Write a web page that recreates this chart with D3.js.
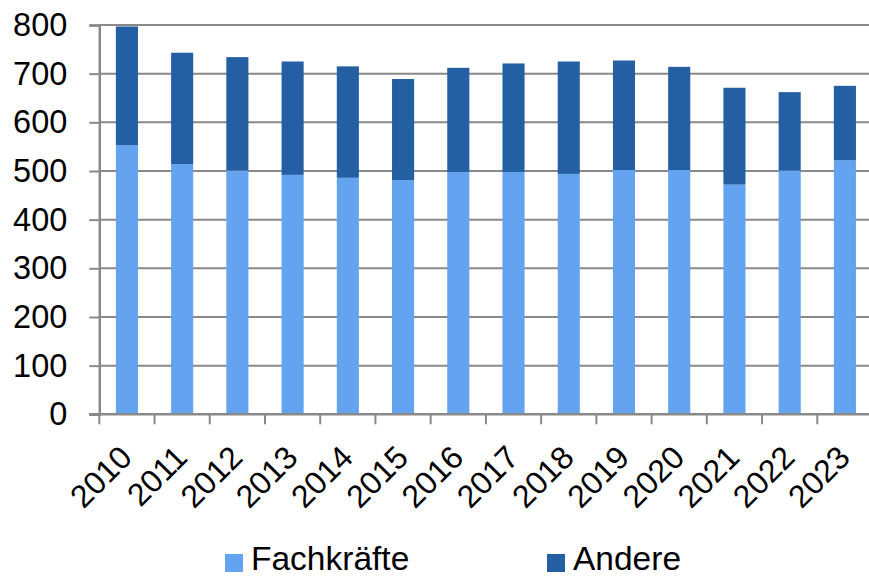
<!DOCTYPE html>
<html><head><meta charset="utf-8">
<script src="https://cdn.jsdelivr.net/npm/d3@7"></script>
<style>body{margin:0;background:#fff}svg{display:block}text{font-family:"Liberation Sans",Arial,sans-serif;fill:#000}</style>
</head><body><svg id="c" width="869" height="577"></svg>
<script>
const years = ["2010","2011","2012","2013","2014","2015","2016","2017","2018","2019","2020","2021","2022","2023"];
const fachkraefte = [553,514,501,492,486,481,498,498,494,502,502,472,501,522];
const andere = [244,229,233,233,229,208,214,223,231,225,212,199,161,153];
const yTicks = [0,100,200,300,400,500,600,700,800];
const seriesNames = ["Fachkräfte","Andere"];
const colors = ["#63A3F0","#245FA3"];

const svg = d3.select("#c");
const pLeft = 99.3, bandW = 55.23, pTop = 25, pBottom = 414.3;
const x = d3.scaleBand().domain(years).range([pLeft, pLeft + bandW*years.length]).paddingInner(0.6).paddingOuter(0.3);
const y = d3.scaleLinear().domain([0,800]).range([pBottom, pTop]);

// gridlines
svg.append("g").selectAll("line").data(yTicks.filter(d=>d>0)).join("line")
  .attr("x1", pLeft).attr("x2", pLeft + bandW*years.length)
  .attr("y1", d=>y(d)).attr("y2", d=>y(d))
  .attr("stroke","#898989").attr("stroke-width",2);

const rows = years.map((yr,i)=>({year:yr, "Fachkräfte":fachkraefte[i], "Andere":andere[i]}));
const stack = d3.stack().keys(seriesNames)(rows);
svg.append("g").selectAll("g").data(stack).join("g").attr("fill",(d,i)=>colors[i])
  .selectAll("rect").data(d=>d).join("rect")
  .attr("x", d=>x(d.data.year)).attr("width", x.bandwidth())
  .attr("y", d=>y(d[1])).attr("height", d=>y(d[0])-y(d[1]));

// y axis
const ya = svg.append("g").attr("transform",`translate(${pLeft},0)`)
  .call(d3.axisLeft(y).tickValues(yTicks).tickSize(10).tickPadding(22));
ya.select(".domain").attr("stroke","#898989").attr("stroke-width",2.5);
ya.selectAll(".tick line").attr("stroke","#898989").attr("stroke-width",2);
ya.selectAll(".tick text").attr("font-size",32.5).attr("font-family","Liberation Sans, Arial, sans-serif").attr("fill","#000");

// x axis
const xa = svg.append("g").attr("transform",`translate(0,${pBottom})`);
xa.append("line").attr("x1",pLeft-10).attr("x2",pLeft+bandW*years.length).attr("stroke","#898989").attr("stroke-width",2.5);
xa.selectAll("line.t").data(d3.range(years.length+1)).join("line").attr("class","t")
  .attr("x1",i=>pLeft+i*bandW).attr("x2",i=>pLeft+i*bandW).attr("y1",0).attr("y2",10)
  .attr("stroke","#898989").attr("stroke-width",2);
xa.selectAll("text").data(years).join("text")
  .attr("transform", d=>`translate(${x(d)+x.bandwidth()/2+7},${45}) rotate(-45)`)
  .attr("text-anchor","end").attr("font-size",32).text(d=>d);

// legend
const leg = svg.append("g");
const legX = [225, 547];
seriesNames.forEach((n,i)=>{
  leg.append("rect").attr("x",legX[i]).attr("y",554).attr("width",18).attr("height",18).attr("fill",colors[i]);
  leg.append("text").attr("x",legX[i]+26).attr("y",570).attr("font-size",33.5).text(n);
});
</script></body></html>
